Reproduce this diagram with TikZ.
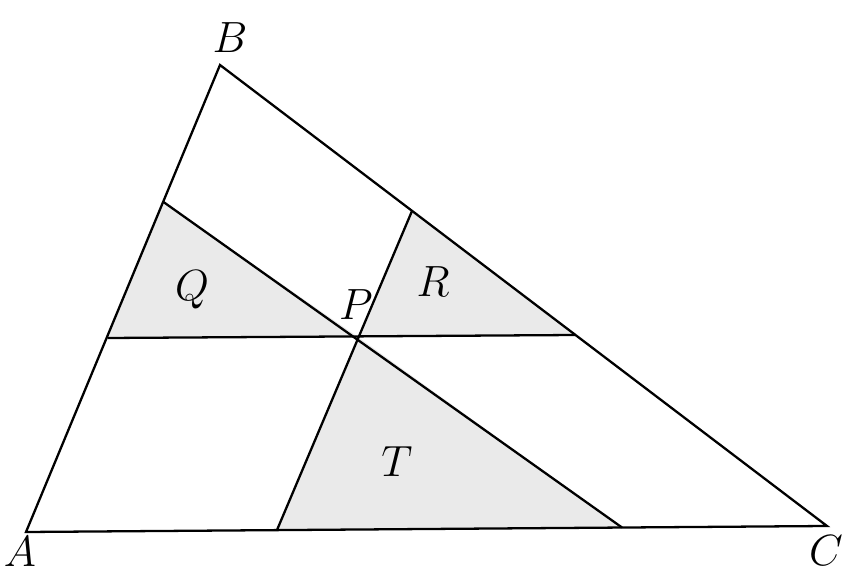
\documentclass[tikz,border=0pt]{standalone}
\usepackage{tikz}
\usepackage{xcolor}
\definecolor{regionfill}{RGB}{234,234,234}

\begin{document}
\begin{tikzpicture}[scale=1]
  \useasboundingbox (0,0) rectangle (16.96,11.48);

  % Vertices and inner point
  \coordinate (A) at (0.52,0.84);
  \coordinate (B) at (4.40,10.18);
  \coordinate (C) at (16.54,0.96);
  \coordinate (P) at (7.16,4.74);

  % Feet of the lines through P
  \coordinate (Qtop) at (3.27,7.44);
  \coordinate (Qbot) at (2.15,4.72);
  \coordinate (Rtop) at (8.24,7.26);
  \coordinate (Rbot) at (11.51,4.78);
  \coordinate (Tleft) at (5.54,0.88);
  \coordinate (Tright) at (12.44,0.93);

  % Shaded triangles
  \fill[regionfill] (Qtop) -- (Qbot) -- (P) -- cycle;
  \fill[regionfill] (Rtop) -- (P) -- (Rbot) -- cycle;
  \fill[regionfill] (P) -- (Tleft) -- (Tright) -- cycle;

  % Triangle and lines through P
  \draw[line width=1.3pt, line join=miter] (A) -- (B) -- (C) -- cycle;
  \draw[line width=1.3pt] (Qbot) -- (Rbot);
  \draw[line width=1.3pt] (Qtop) -- (Tright);
  \draw[line width=1.3pt] (Rtop) -- (Tleft);

  % Labels
  \node[inner sep=0pt, font=\fontsize{23}{26}\selectfont] at (4.60,10.72) {$B$};
  \node[inner sep=0pt, font=\fontsize{23}{26}\selectfont] at (0.40,0.44) {$A$};
  \node[inner sep=0pt, font=\fontsize{23}{26}\selectfont] at (16.52,0.46) {$C$};
  \node[inner sep=0pt, font=\fontsize{23}{26}\selectfont] at (7.12,5.38) {$P$};
  \node[inner sep=0pt, font=\fontsize{23}{26}\selectfont] at (3.84,5.68) {$Q$};
  \node[inner sep=0pt, font=\fontsize{23}{26}\selectfont] at (8.66,5.84) {$R$};
  \node[inner sep=0pt, font=\fontsize{23}{26}\selectfont] at (7.94,2.24) {$T$};

\end{tikzpicture}
\end{document}
